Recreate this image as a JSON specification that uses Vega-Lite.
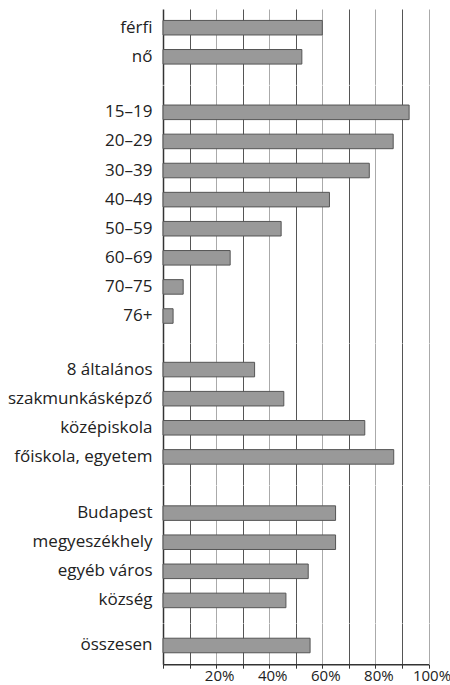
{
  "$schema": "https://vega.github.io/schema/vega-lite/v6.json",
  "padding": {"left": 5, "top": 9, "right": 4, "bottom": 0},
  "background": "white",
  "spacing": 0,
  "bounds": "flush",
  "config": {"view": {"stroke": null}, "font": "Open Sans"},
  "data": {"values": [
    {"g": 1, "kat": "férfi", "v": 60.0},
    {"g": 1, "kat": "nő", "v": 52.3},
    {"g": 2, "kat": "15–19", "v": 92.7},
    {"g": 2, "kat": "20–29", "v": 86.7},
    {"g": 2, "kat": "30–39", "v": 77.7},
    {"g": 2, "kat": "40–49", "v": 62.7},
    {"g": 2, "kat": "50–59", "v": 44.5},
    {"g": 2, "kat": "60–69", "v": 25.3},
    {"g": 2, "kat": "70–75", "v": 7.6},
    {"g": 2, "kat": "76+", "v": 3.8},
    {"g": 3, "kat": "8 általános", "v": 34.5},
    {"g": 3, "kat": "szakmunkásképző", "v": 45.5},
    {"g": 3, "kat": "középiskola", "v": 76.0},
    {"g": 3, "kat": "főiskola, egyetem", "v": 86.9},
    {"g": 4, "kat": "Budapest", "v": 65.0},
    {"g": 4, "kat": "megyeszékhely", "v": 65.0},
    {"g": 4, "kat": "egyéb város", "v": 54.7},
    {"g": 4, "kat": "község", "v": 46.3},
    {"g": 5, "kat": "összesen", "v": 55.4}
  ]},
  "vconcat": [
    {
      "width": 265.5, "height": 75.4,
      "transform": [{"filter": "datum.g === 1"}],
      "mark": {"type": "bar", "fill": "#999999", "stroke": "#555555", "strokeWidth": 1},
      "encoding": {
        "y": {"field": "kat", "type": "nominal", "sort": null,
          "scale": {"paddingInner": 0.5, "paddingOuter": 0.5455, "align": 0.36},
          "axis": {"title": null, "ticks": false, "domain": true, "domainColor": "#333333", "domainWidth": 1.5, "labelPadding": 11, "labelFontSize": 17, "labelColor": "#222222", "labelFont": "Open Sans", "minExtent": 158, "maxExtent": 158}},
        "x": {"field": "v", "type": "quantitative", "scale": {"domain": [0, 100], "nice": false},
          "axis": {"title": null, "labels": false, "ticks": false, "domain": false, "grid": true, "gridOpacity": 1, "values": [10, 20, 30, 40, 50, 60, 70, 80, 90, 100],
            "gridColor": {"condition": {"test": "datum.value % 20 === 0", "value": "#aaaaaa"}, "value": "#555555"}}}
      }
    },
    {
      "width": 265.5, "height": 257.7,
      "transform": [{"filter": "datum.g === 2"}],
      "mark": {"type": "bar", "fill": "#999999", "stroke": "#555555", "strokeWidth": 1},
      "encoding": {
        "y": {"field": "kat", "type": "nominal", "sort": null,
          "scale": {"paddingInner": 0.5, "paddingOuter": 0.678, "align": 0.508},
          "axis": {"title": null, "ticks": false, "domain": true, "domainColor": "#333333", "domainWidth": 1.5, "labelPadding": 11, "labelFontSize": 17, "labelColor": "#222222", "labelFont": "Open Sans", "minExtent": 158, "maxExtent": 158}},
        "x": {"field": "v", "type": "quantitative", "scale": {"domain": [0, 100], "nice": false},
          "axis": {"title": null, "labels": false, "ticks": false, "domain": false, "grid": true, "gridOpacity": 1, "values": [10, 20, 30, 40, 50, 60, 70, 80, 90, 100],
            "gridColor": {"condition": {"test": "datum.value % 20 === 0", "value": "#aaaaaa"}, "value": "#555555"}}}
      }
    },
    {
      "width": 265.5, "height": 141.5,
      "transform": [{"filter": "datum.g === 3"}],
      "mark": {"type": "bar", "fill": "#999999", "stroke": "#555555", "strokeWidth": 1},
      "encoding": {
        "y": {"field": "kat", "type": "nominal", "sort": null,
          "scale": {"paddingInner": 0.5, "paddingOuter": 0.681, "align": 0.487},
          "axis": {"title": null, "ticks": false, "domain": true, "domainColor": "#333333", "domainWidth": 1.5, "labelPadding": 11, "labelFontSize": 17, "labelColor": "#222222", "labelFont": "Open Sans", "minExtent": 158, "maxExtent": 158}},
        "x": {"field": "v", "type": "quantitative", "scale": {"domain": [0, 100], "nice": false},
          "axis": {"title": null, "labels": false, "ticks": false, "domain": false, "grid": true, "gridOpacity": 1, "values": [10, 20, 30, 40, 50, 60, 70, 80, 90, 100],
            "gridColor": {"condition": {"test": "datum.value % 20 === 0", "value": "#aaaaaa"}, "value": "#555555"}}}
      }
    },
    {
      "width": 265.5, "height": 137.6,
      "transform": [{"filter": "datum.g === 4"}],
      "mark": {"type": "bar", "fill": "#999999", "stroke": "#555555", "strokeWidth": 1},
      "encoding": {
        "y": {"field": "kat", "type": "nominal", "sort": null,
          "scale": {"paddingInner": 0.5, "paddingOuter": 0.614, "align": 0.583},
          "axis": {"title": null, "ticks": false, "domain": true, "domainColor": "#333333", "domainWidth": 1.5, "labelPadding": 11, "labelFontSize": 17, "labelColor": "#222222", "labelFont": "Open Sans", "minExtent": 158, "maxExtent": 158}},
        "x": {"field": "v", "type": "quantitative", "scale": {"domain": [0, 100], "nice": false},
          "axis": {"title": null, "labels": false, "ticks": false, "domain": false, "grid": true, "gridOpacity": 1, "values": [10, 20, 30, 40, 50, 60, 70, 80, 90, 100],
            "gridColor": {"condition": {"test": "datum.value % 20 === 0", "value": "#aaaaaa"}, "value": "#555555"}}}
      }
    },
    {
      "width": 265.5, "height": 41.2,
      "transform": [{"filter": "datum.g === 5"}],
      "mark": {"type": "bar", "fill": "#999999", "stroke": "#555555", "strokeWidth": 1},
      "encoding": {
        "y": {"field": "kat", "type": "nominal", "sort": null,
          "scale": {"paddingInner": 0.5, "paddingOuter": 0.458, "align": 0.571},
          "axis": {"title": null, "ticks": false, "domain": true, "domainColor": "#333333", "domainWidth": 1.5, "labelPadding": 11, "labelFontSize": 17, "labelColor": "#222222", "labelFont": "Open Sans", "minExtent": 158, "maxExtent": 158}},
        "x": {"field": "v", "type": "quantitative", "scale": {"domain": [0, 100], "nice": false},
          "axis": {"title": null, "grid": true, "gridOpacity": 1, "values": [0, 10, 20, 30, 40, 50, 60, 70, 80, 90, 100],
            "gridColor": {"condition": {"test": "datum.value % 20 === 0", "value": "#aaaaaa"}, "value": "#555555"},
            "domain": true, "domainColor": "#333333", "domainWidth": 1.5,
            "ticks": true, "tickColor": "#333333", "tickSize": 4, "tickWidth": 1,
            "labelExpr": "datum.value > 0 && datum.value % 20 === 0 ? datum.value + '%' : ''",
            "labelFontSize": 15, "labelColor": "#222222", "labelFont": "Open Sans", "labelPadding": 0, "labelOffset": 3, "labelFlush": false, "labelOverlap": false}}
      }
    }
  ]
}
